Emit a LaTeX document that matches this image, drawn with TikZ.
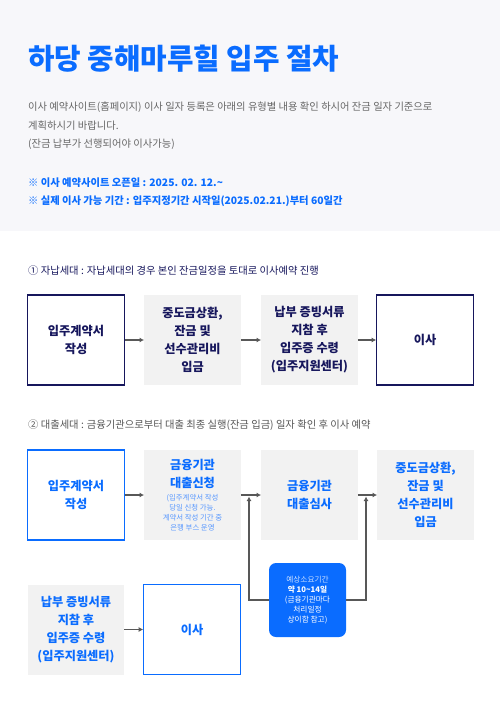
\documentclass[tikz,border=0pt]{standalone}
\usepackage{fontspec}
\setmainfont{Noto Sans CJK KR}
\usetikzlibrary{arrows.meta}

\definecolor{mainblue}{RGB}{10,108,255}
\definecolor{noteblue}{RGB}{85,150,255}
\definecolor{navy}{RGB}{22,22,92}
\definecolor{topbg}{RGB}{247,247,250}
\definecolor{boxgrey}{RGB}{242,242,242}
\definecolor{arrowgrey}{RGB}{88,88,88}
\definecolor{bodygrey}{RGB}{102,102,102}
\definecolor{labelgrey}{RGB}{85,85,85}

\newcommand{\stepfont}{\bfseries\fontsize{12.2}{18}\selectfont}

\begin{document}
\begin{tikzpicture}[x=1pt, y=-1pt,
  flowbox/.style={minimum width=96.5pt, minimum height=90pt, text width=94pt,
    align=flush center, inner sep=0pt, font=\stepfont},
  outlinebox/.style={flowbox, draw=#1, line width=1.2pt, fill=white, text=#1},
  greybox/.style={flowbox, fill=boxgrey, text=#1},
  flowarrow/.style={draw=arrowgrey, line width=1.5pt, -{Latex[length=4.5pt,width=5pt]}},
  textline/.style={anchor=west, inner sep=0pt}]

  \useasboundingbox (0,0) rectangle (500,708);

  % header band
  \fill[topbg] (0,0) rectangle (500,231);
  \node[textline, text=mainblue, font=\bfseries\fontsize{28.8}{32}\selectfont] (title) at (28,58.5) {하당 중해마루힐 입주 절차};
  \node[anchor=north west, inner sep=0pt, align=left, text=bodygrey,
    font=\fontsize{10.3}{18.5}\selectfont] (intro) at (28,102)
    {이사 예약사이트(홈페이지) 이사 일자 등록은 아래의 유형별 내용 확인 하시어 잔금 일자 기준으로\\
     계획하시기 바랍니다.\\
     (잔금 납부가 선행되어야 이사가능)};
  \node[anchor=north west, inner sep=0pt, align=left, text=mainblue,
    font=\bfseries\fontsize{10.3}{17.5}\selectfont] (notice) at (28,178)
    {※ 이사 예약사이트 오픈일 : 2025. 02. 12.\textasciitilde\\
     ※ 실제 이사 가능 기간 : 입주지정기간 시작일(2025.02.21.)부터 60일간};

  % case 1: self-paid households
  \node[textline, text=navy, font=\fontsize{10.3}{12}\selectfont] (case1) at (28,271)
    {① 자납세대 : 자납세대의 경우 본인 잔금일정을 토대로 이사예약 진행};
  \node[outlinebox=navy] (contract1) at (76,340) {입주계약서\\작성};
  \node[greybox=navy] (payoff1) at (192.5,340) {중도금상환,\\잔금 및\\선수관리비\\입금};
  \node[greybox=navy] (receipt1) at (309.5,340) {납부 증빙서류\\지참 후\\입주증 수령\\(입주지원센터)};
  \node[outlinebox=navy] (movein1) at (425,340) {이사};
  \draw[flowarrow] (contract1) -- (payoff1);
  \draw[flowarrow] (payoff1) -- (receipt1);
  \draw[flowarrow] (receipt1) -- (movein1);

  % case 2: loan households
  \node[textline, text=labelgrey, font=\fontsize{10.3}{12}\selectfont] (case2) at (28,425.5)
    {② 대출세대 : 금융기관으로부터 대출 최종 실행(잔금 입금) 일자 확인 후 이사 예약};
  \node[outlinebox=mainblue] (contract2) at (76,495) {입주계약서\\작성};
  \node[greybox=mainblue] (loanapply) at (192.5,495)
    {금융기관\\대출신청\par\vspace{3.5pt}%
     {\mdseries\fontsize{7.4}{10}\selectfont\color{noteblue}(입주계약서 작성\\당일 신청 가능.\\계약서 작성 기간 중\\은행 부스 운영\par}};
  \node[greybox=mainblue] (loanreview) at (309.5,495) {금융기관\\대출심사};
  \node[greybox=mainblue] (payoff2) at (425.5,495) {중도금상환,\\잔금 및\\선수관리비\\입금};
  \draw[flowarrow] (contract2) -- (loanapply);
  \draw[flowarrow] (loanapply) -- (loanreview);
  \draw[flowarrow] (loanreview) -- (payoff2);

  % expected loan processing time
  \node[fill=mainblue, rounded corners=7pt, minimum width=77pt, minimum height=74pt,
    text width=74pt, align=flush center, inner sep=0pt, text=white,
    font=\fontsize{7.7}{10}\selectfont] (duration) at (307.5,600)
    {{\color{white!78!mainblue}예상소요기간}\\{\bfseries 약 10\textasciitilde14일}\\(금융기관마다\\처리일정\\상이함 참고)};
  \coordinate (join1) at (249,496.5);
  \coordinate (join2) at (366,496.5);
  \draw[flowarrow] (duration.west) -| (join1);
  \draw[flowarrow] (duration.east) -| (join2);

  \node[greybox=mainblue] (receipt2) at (76,629.5) {납부 증빙서류\\지참 후\\입주증 수령\\(입주지원센터)};
  \node[outlinebox=mainblue] (movein2) at (192,629.5) {이사};
  \draw[flowarrow] (receipt2) -- (movein2);

\end{tikzpicture}
\end{document}
